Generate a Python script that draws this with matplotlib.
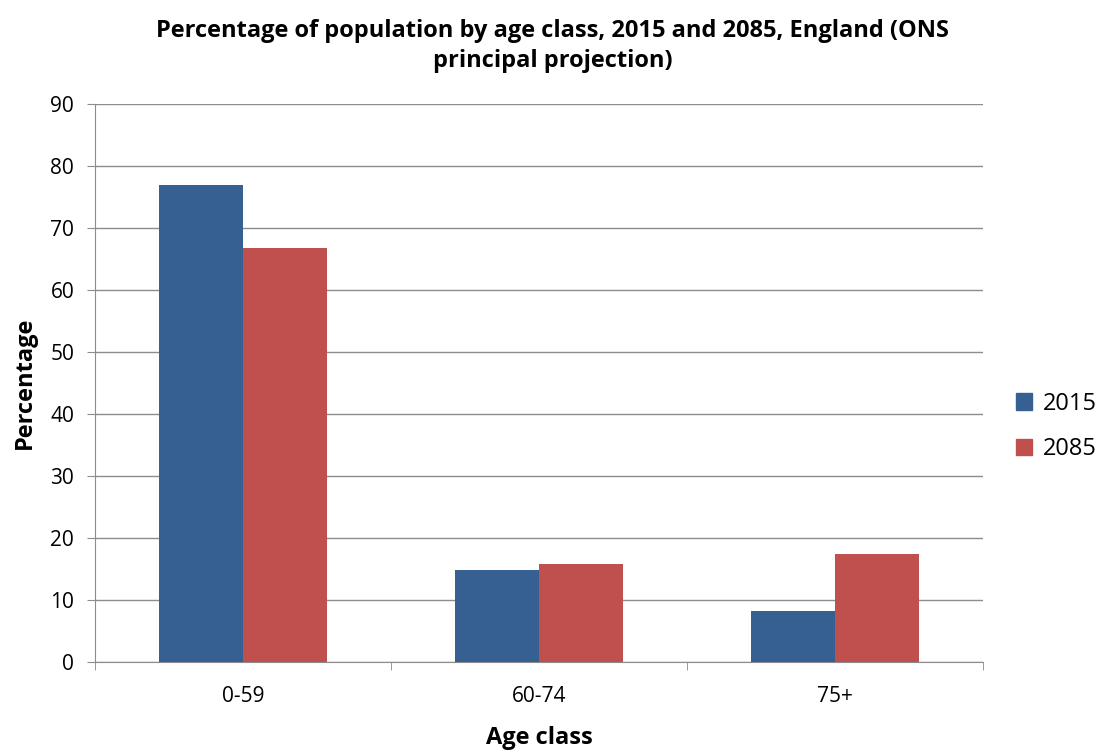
import numpy as np
import matplotlib.pyplot as plt
from matplotlib.patches import Patch

# data
categories = ["0-59", "60-74", "75+"]
values_2015 = [76.9, 14.9, 8.2]
values_2085 = [66.7, 15.8, 17.4]

plt.rcParams['font.family'] = ['Open Sans', 'DejaVu Sans']

fig = plt.figure(figsize=(11.05, 7.55), dpi=100)
ax = fig.add_axes([0.086, 0.1232, 0.8036, 0.7391])

x = np.arange(len(categories))
w = 0.284
ax.bar(x - w / 2, values_2015, w, color="#376092", label="2015", zorder=3)
ax.bar(x + w / 2, values_2085, w, color="#C0504D", label="2085", zorder=3)

ax.set_xlim(-0.5, 2.5)
ax.set_ylim(0, 90)
ax.set_yticks(range(0, 91, 10))
ax.yaxis.grid(True, color="#8c8c8c", linewidth=1.0, zorder=0)

ax.set_xticks(x)
ax.set_xticklabels(categories)
ax.set_xticks([-0.5, 0.5, 1.5, 2.5], minor=True)
ax.tick_params(axis="x", which="major", length=0, pad=17, labelsize=15)
ax.tick_params(axis="x", which="minor", length=6, color="#8c8c8c")
ax.tick_params(axis="y", length=6, color="#8c8c8c", labelsize=15, pad=9)

for s in ["top", "right"]:
    ax.spines[s].set_visible(False)
for s in ["left", "bottom"]:
    ax.spines[s].set_color("#8c8c8c")

ax.set_xlabel("Age class", fontsize=17, fontweight="bold", labelpad=14)
ax.set_ylabel("Percentage", fontsize=17, fontweight="bold", labelpad=10)
fig.suptitle("Percentage of population by age class, 2015 and 2085, England (ONS\nprincipal projection)",
             x=0.5, y=0.975, fontsize=17, fontweight="bold", linespacing=1.35)

handles = [Patch(color="#376092", label="2015"), Patch(color="#C0504D", label="2085")]
fig.legend(handles=handles, loc="center left", bbox_to_anchor=(0.9, 0.435), frameon=False,
           fontsize=17, handlelength=0.7, handleheight=0.7, handletextpad=0.45, labelspacing=0.9)

plt.savefig("out.png", dpi=100)
